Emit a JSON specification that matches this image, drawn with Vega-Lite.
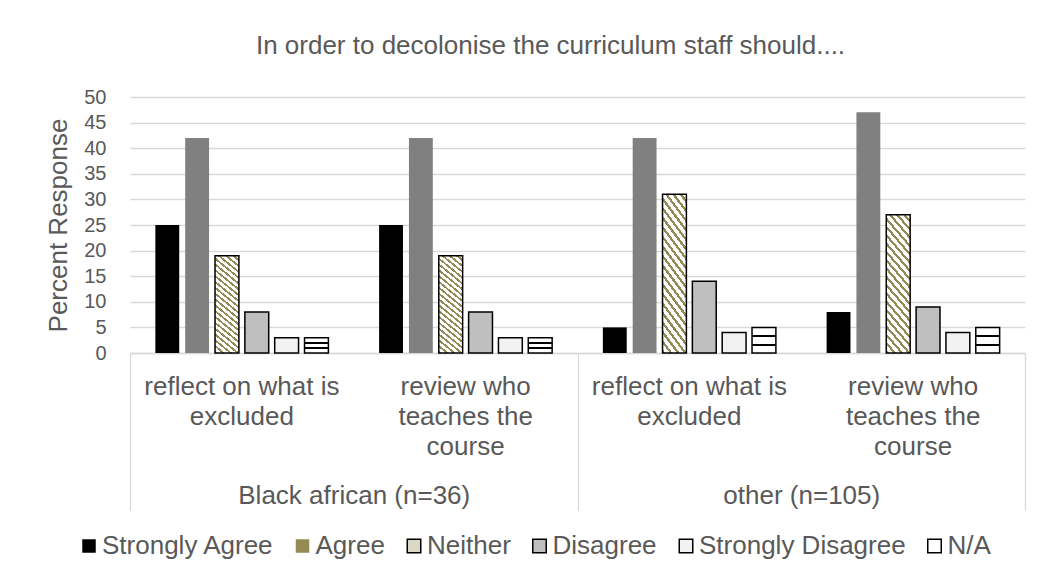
{
  "$schema": "https://vega.github.io/schema/vega-lite/v6.json",
  "autosize": {"type": "none"},
  "width": 895,
  "height": 256,
  "padding": {"left": 130, "top": 97, "right": 15, "bottom": 224},
  "background": "#FFFFFF",
  "title": {
    "text": "In order to decolonise the curriculum staff should....",
    "fontSize": 26,
    "fontWeight": "normal",
    "color": "#595959",
    "anchor": "middle",
    "dx": -27,
    "baseline": "alphabetic",
    "offset": 7
  },
  "data": {
    "values": [
      {"group": "Black african (n=36)", "item": "Black african (n=36): reflect on what is|excluded", "resp": "Strongly Agree", "value": 25},
      {"group": "Black african (n=36)", "item": "Black african (n=36): reflect on what is|excluded", "resp": "Agree", "value": 42},
      {"group": "Black african (n=36)", "item": "Black african (n=36): reflect on what is|excluded", "resp": "Neither", "value": 19},
      {"group": "Black african (n=36)", "item": "Black african (n=36): reflect on what is|excluded", "resp": "Disagree", "value": 8},
      {"group": "Black african (n=36)", "item": "Black african (n=36): reflect on what is|excluded", "resp": "Strongly Disagree", "value": 3},
      {"group": "Black african (n=36)", "item": "Black african (n=36): reflect on what is|excluded", "resp": "N/A", "value": 3},
      {"group": "Black african (n=36)", "item": "Black african (n=36): review who|teaches the|course", "resp": "Strongly Agree", "value": 25},
      {"group": "Black african (n=36)", "item": "Black african (n=36): review who|teaches the|course", "resp": "Agree", "value": 42},
      {"group": "Black african (n=36)", "item": "Black african (n=36): review who|teaches the|course", "resp": "Neither", "value": 19},
      {"group": "Black african (n=36)", "item": "Black african (n=36): review who|teaches the|course", "resp": "Disagree", "value": 8},
      {"group": "Black african (n=36)", "item": "Black african (n=36): review who|teaches the|course", "resp": "Strongly Disagree", "value": 3},
      {"group": "Black african (n=36)", "item": "Black african (n=36): review who|teaches the|course", "resp": "N/A", "value": 3},
      {"group": "other (n=105)", "item": "other (n=105): reflect on what is|excluded", "resp": "Strongly Agree", "value": 5},
      {"group": "other (n=105)", "item": "other (n=105): reflect on what is|excluded", "resp": "Agree", "value": 42},
      {"group": "other (n=105)", "item": "other (n=105): reflect on what is|excluded", "resp": "Neither", "value": 31},
      {"group": "other (n=105)", "item": "other (n=105): reflect on what is|excluded", "resp": "Disagree", "value": 14},
      {"group": "other (n=105)", "item": "other (n=105): reflect on what is|excluded", "resp": "Strongly Disagree", "value": 4},
      {"group": "other (n=105)", "item": "other (n=105): reflect on what is|excluded", "resp": "N/A", "value": 5},
      {"group": "other (n=105)", "item": "other (n=105): review who|teaches the|course", "resp": "Strongly Agree", "value": 8},
      {"group": "other (n=105)", "item": "other (n=105): review who|teaches the|course", "resp": "Agree", "value": 47},
      {"group": "other (n=105)", "item": "other (n=105): review who|teaches the|course", "resp": "Neither", "value": 27},
      {"group": "other (n=105)", "item": "other (n=105): review who|teaches the|course", "resp": "Disagree", "value": 9},
      {"group": "other (n=105)", "item": "other (n=105): review who|teaches the|course", "resp": "Strongly Disagree", "value": 4},
      {"group": "other (n=105)", "item": "other (n=105): review who|teaches the|course", "resp": "N/A", "value": 5}
    ]
  },
  "layer": [
    {
      "mark": {"type": "bar", "strokeWidth": 1.5},
      "encoding": {
        "x": {
          "field": "item",
          "type": "nominal",
          "sort": null,
          "scale": {"type": "band", "paddingInner": 0.2, "paddingOuter": 0.1},
          "axis": {
            "orient": "bottom",
            "title": null,
            "domain": true,
            "domainColor": "#D9D9D9",
            "domainWidth": 1.3,
            "ticks": false,
            "tickSize": 0,
            "grid": false,
            "labelExpr": "split(split(datum.value, ': ')[1], '|')",
            "labelAngle": 0,
            "labelBaseline": "top",
            "labelAlign": "center",
            "labelPadding": 20,
            "labelFontSize": 26,
            "labelLineHeight": 30,
            "labelColor": "#595959",
            "labelLimit": 400,
            "labelOverlap": false
          }
        },
        "xOffset": {
          "field": "resp",
          "type": "nominal",
          "sort": ["Strongly Agree", "Agree", "Neither", "Disagree", "Strongly Disagree", "N/A"],
          "scale": {"paddingInner": 0.2, "paddingOuter": 0.1}
        },
        "y": {
          "field": "value",
          "type": "quantitative",
          "scale": {"domain": [0, 50], "nice": false},
          "axis": {
            "title": "Percent Response",
            "titleFontSize": 26,
            "titleFontWeight": "normal",
            "titleColor": "#595959",
            "titlePadding": 12,
            "values": [0, 5, 10, 15, 20, 25, 30, 35, 40, 45, 50],
            "domain": false,
            "ticks": false,
            "labelFontSize": 20,
            "labelColor": "#595959",
            "labelPadding": 24,
            "grid": true,
            "gridColor": "#D9D9D9",
            "gridWidth": 1.3
          }
        },
        "fill": {
          "field": "resp",
          "type": "nominal",
          "scale": {
            "domain": ["Strongly Agree", "Agree", "Neither", "Disagree", "Strongly Disagree", "N/A"],
            "range": ["#000000", "#948A54", "#DCD8C6", "#BFBFBF", "#F2F2F2", "#FFFFFF"]
          },
          "legend": {
            "title": null,
            "orient": "none",
            "direction": "horizontal",
            "legendX": -54,
            "legendY": 436,
            "symbolType": "square",
            "symbolSize": 182,
            "symbolStrokeWidth": 1.5,
            "labelFontSize": 26,
            "labelColor": "#595959",
            "labelOffset": 0,
            "labelLimit": 0,
            "columnPadding": 15.5,
            "padding": 0
          },
          "condition": [
            {"test": "datum.resp === 'Strongly Agree'", "value": "#000000"},
            {"test": "datum.resp === 'Agree'", "value": "#808080"},
            {"test": "datum.resp === 'Neither'", "value": {"gradient": "linear", "x1": 0, "y1": 1, "x2": 0.2308, "y2": -0.1538, "stops": [
              {"offset": 0, "color": "#948A54"}, {"offset": 0.02, "color": "#948A54"}, {"offset": 0.02, "color": "#FFFFFF"}, {"offset": 0.05, "color": "#FFFFFF"},
              {"offset": 0.05, "color": "#948A54"}, {"offset": 0.07, "color": "#948A54"}, {"offset": 0.07, "color": "#FFFFFF"}, {"offset": 0.10, "color": "#FFFFFF"},
              {"offset": 0.10, "color": "#948A54"}, {"offset": 0.12, "color": "#948A54"}, {"offset": 0.12, "color": "#FFFFFF"}, {"offset": 0.15, "color": "#FFFFFF"},
              {"offset": 0.15, "color": "#948A54"}, {"offset": 0.17, "color": "#948A54"}, {"offset": 0.17, "color": "#FFFFFF"}, {"offset": 0.20, "color": "#FFFFFF"},
              {"offset": 0.20, "color": "#948A54"}, {"offset": 0.22, "color": "#948A54"}, {"offset": 0.22, "color": "#FFFFFF"}, {"offset": 0.25, "color": "#FFFFFF"},
              {"offset": 0.25, "color": "#948A54"}, {"offset": 0.27, "color": "#948A54"}, {"offset": 0.27, "color": "#FFFFFF"}, {"offset": 0.30, "color": "#FFFFFF"},
              {"offset": 0.30, "color": "#948A54"}, {"offset": 0.32, "color": "#948A54"}, {"offset": 0.32, "color": "#FFFFFF"}, {"offset": 0.35, "color": "#FFFFFF"},
              {"offset": 0.35, "color": "#948A54"}, {"offset": 0.37, "color": "#948A54"}, {"offset": 0.37, "color": "#FFFFFF"}, {"offset": 0.40, "color": "#FFFFFF"},
              {"offset": 0.40, "color": "#948A54"}, {"offset": 0.42, "color": "#948A54"}, {"offset": 0.42, "color": "#FFFFFF"}, {"offset": 0.45, "color": "#FFFFFF"},
              {"offset": 0.45, "color": "#948A54"}, {"offset": 0.47, "color": "#948A54"}, {"offset": 0.47, "color": "#FFFFFF"}, {"offset": 0.50, "color": "#FFFFFF"},
              {"offset": 0.50, "color": "#948A54"}, {"offset": 0.52, "color": "#948A54"}, {"offset": 0.52, "color": "#FFFFFF"}, {"offset": 0.55, "color": "#FFFFFF"},
              {"offset": 0.55, "color": "#948A54"}, {"offset": 0.57, "color": "#948A54"}, {"offset": 0.57, "color": "#FFFFFF"}, {"offset": 0.60, "color": "#FFFFFF"},
              {"offset": 0.60, "color": "#948A54"}, {"offset": 0.62, "color": "#948A54"}, {"offset": 0.62, "color": "#FFFFFF"}, {"offset": 0.65, "color": "#FFFFFF"},
              {"offset": 0.65, "color": "#948A54"}, {"offset": 0.67, "color": "#948A54"}, {"offset": 0.67, "color": "#FFFFFF"}, {"offset": 0.70, "color": "#FFFFFF"},
              {"offset": 0.70, "color": "#948A54"}, {"offset": 0.72, "color": "#948A54"}, {"offset": 0.72, "color": "#FFFFFF"}, {"offset": 0.75, "color": "#FFFFFF"},
              {"offset": 0.75, "color": "#948A54"}, {"offset": 0.77, "color": "#948A54"}, {"offset": 0.77, "color": "#FFFFFF"}, {"offset": 0.80, "color": "#FFFFFF"},
              {"offset": 0.80, "color": "#948A54"}, {"offset": 0.82, "color": "#948A54"}, {"offset": 0.82, "color": "#FFFFFF"}, {"offset": 0.85, "color": "#FFFFFF"},
              {"offset": 0.85, "color": "#948A54"}, {"offset": 0.87, "color": "#948A54"}, {"offset": 0.87, "color": "#FFFFFF"}, {"offset": 0.90, "color": "#FFFFFF"},
              {"offset": 0.90, "color": "#948A54"}, {"offset": 0.92, "color": "#948A54"}, {"offset": 0.92, "color": "#FFFFFF"}, {"offset": 0.95, "color": "#FFFFFF"},
              {"offset": 0.95, "color": "#948A54"}, {"offset": 0.97, "color": "#948A54"}, {"offset": 0.97, "color": "#FFFFFF"}, {"offset": 1, "color": "#FFFFFF"}
            ]}},
            {"test": "datum.resp === 'Disagree'", "value": "#BFBFBF"},
            {"test": "datum.resp === 'Strongly Disagree'", "value": "#F2F2F2"},
            {"test": "datum.resp === 'N/A'", "value": {"gradient": "linear", "x1": 0, "y1": 0, "x2": 0, "y2": 1, "stops": [
              {"offset": 0, "color": "#FFFFFF"}, {"offset": 0.3, "color": "#FFFFFF"},
              {"offset": 0.3, "color": "#000000"}, {"offset": 0.39, "color": "#000000"},
              {"offset": 0.39, "color": "#FFFFFF"}, {"offset": 0.64, "color": "#FFFFFF"},
              {"offset": 0.64, "color": "#000000"}, {"offset": 0.73, "color": "#000000"},
              {"offset": 0.73, "color": "#FFFFFF"}, {"offset": 1, "color": "#FFFFFF"}
            ]}}
          ]
        },
        "stroke": {
          "field": "resp",
          "type": "nominal",
          "scale": {
            "domain": ["Strongly Agree", "Agree", "Neither", "Disagree", "Strongly Disagree", "N/A"],
            "range": ["transparent", "transparent", "#000000", "#000000", "#000000", "#000000"]
          },
          "legend": {
            "title": null,
            "orient": "none",
            "direction": "horizontal",
            "legendX": -54,
            "legendY": 436,
            "symbolType": "square",
            "symbolSize": 182,
            "symbolStrokeWidth": 1.5,
            "labelFontSize": 26,
            "labelColor": "#595959",
            "labelOffset": 0,
            "labelLimit": 0,
            "columnPadding": 15.5,
            "padding": 0
          }
        }
      }
    },
    {
      "mark": {"type": "rule", "opacity": 0},
      "encoding": {
        "x": {
          "field": "group",
          "type": "nominal",
          "sort": null,
          "scale": {"type": "band", "paddingInner": 0, "paddingOuter": 0},
          "axis": {
            "orient": "bottom",
            "title": null,
            "domain": false,
            "grid": false,
            "ticks": true,
            "tickBand": "extent",
            "tickSize": 157,
            "tickColor": "#D9D9D9",
            "tickWidth": 1.3,
            "labelAngle": 0,
            "labelAlign": "center",
            "labelBaseline": "top",
            "labelPadding": -27.5,
            "labelFontSize": 26,
            "labelColor": "#595959",
            "labelLimit": 400,
            "labelOverlap": false
          }
        }
      }
    }
  ],
  "resolve": {"scale": {"x": "independent"}, "axis": {"x": "independent"}},
  "config": {
    "font": "Liberation Sans",
    "view": {"stroke": null},
    "axis": {"labelFont": "Liberation Sans", "titleFont": "Liberation Sans"},
    "legend": {"labelFont": "Liberation Sans"},
    "title": {"font": "Liberation Sans"}
  }
}
